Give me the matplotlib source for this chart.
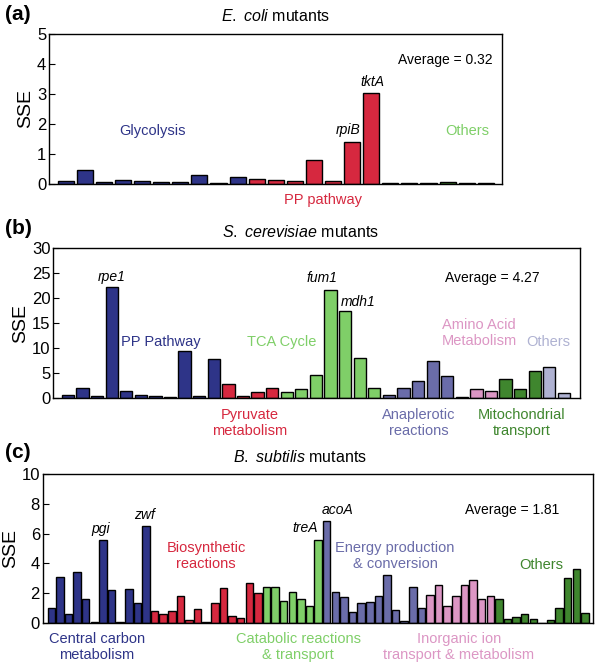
import numpy as np
import matplotlib
matplotlib.use('Agg')
import matplotlib.pyplot as plt

plt.rcParams['font.family'] = ['Liberation Sans', 'DejaVu Sans']
plt.rcParams['mathtext.fontset'] = 'custom'
plt.rcParams['mathtext.rm'] = 'Liberation Sans'
plt.rcParams['mathtext.it'] = 'Liberation Sans:italic'

NAVY = '#2e3488'
RED = '#d6283f'
LGREEN = '#7fcf68'
PURPLE = '#6a6ca9'
PINK = '#dc96c4'
DGREEN = '#3f862e'
LAV = '#afb2d2'

# ---- E. coli ----
ecoli_glyc = [0.10, 0.45, 0.05, 0.13, 0.09, 0.05, 0.07, 0.29, 0.02, 0.22]
ecoli_pp = [0.17, 0.11, 0.08, 0.78, 0.10, 1.40, 3.04]
ecoli_oth = [0.03, 0.02, 0.02, 0.05, 0.02, 0.02]

# ---- S. cerevisiae ----
sc_pp = [0.6, 2.0, 0.5, 22.3, 1.5, 0.7, 0.45, 0.3, 9.4, 0.4, 7.8]
sc_pyr = [2.8, 0.5, 1.2, 2.1]
sc_tca = [1.2, 1.8, 4.7, 21.7, 17.5, 8.0, 2.0]
sc_ana = [0.6, 2.1, 3.5, 7.5, 4.5]
sc_aa = [0.3, 1.9, 1.5]
sc_mito = [3.9, 1.9, 5.5]
sc_oth = [6.2, 1.1]

# ---- B. subtilis ----
bs_ccm = [1.05, 3.1, 0.6, 3.4, 1.65, 0.07, 5.55, 2.25, 0.07, 2.3, 1.35, 6.5]
bs_bio = [0.8, 0.65, 0.8, 1.85, 0.25, 0.95, 0.12, 1.35, 2.35, 0.5, 0.35, 2.7, 2.0]
bs_cat = [2.4, 2.45, 1.5, 2.1, 1.65, 1.15, 5.6]
bs_energy = [6.85, 2.1, 1.75, 0.75, 1.35, 1.4, 1.85, 3.25, 0.9, 0.15, 2.45, 1.0]
bs_ion = [1.9, 2.55, 1.15, 1.85, 2.55, 2.9, 1.6, 1.85]
bs_oth = [1.6, 0.3, 0.45, 0.6, 0.3, 0.0, 0.2, 1.05, 3.05, 3.6, 0.7]

W, H = 600, 666
fig = plt.figure(figsize=(6, 6.66), dpi=100)


def px(x, y):
    return x / W, 1 - y / H


def txt(x, y, s, **kw):
    kw.setdefault('ha', 'center')
    kw.setdefault('va', 'center')
    kw.setdefault('fontsize', 10)
    fig.text(*px(x, y), s, **kw)


def cat(x, y, s, c):
    # group label, a touch bigger than gene names
    txt(x, y, s, color=c, fontsize=10.5, linespacing=1.1)


def panel(box, groups, xlim, ylim, step, width):
    l, r, t, b = box
    ax = fig.add_axes([l / W, 1 - b / H, (r - l) / W, (b - t) / H])
    vals, cols = [], []
    for v, c in groups:
        vals += v
        cols += [c] * len(v)
    x = np.arange(len(vals))
    ax.bar(x, vals, width=width, color=cols, edgecolor='black', linewidth=1.0)
    ax.set_xlim(*xlim)
    ax.set_ylim(0, ylim)
    ax.set_yticks(np.arange(0, ylim + 0.01, step))
    ax.set_xticks([])
    ax.tick_params(axis='y', direction='in', length=4, labelsize=12, pad=2)
    for s in ax.spines.values():
        s.set_linewidth(1.0)
    ax.set_ylabel('SSE', fontsize=14, labelpad=2)
    return ax


# (a)
ax1 = panel((49, 502, 34, 183.7),
            [(ecoli_glyc, NAVY), (ecoli_pp, RED), (ecoli_oth, DGREEN)],
            (-0.88, 22.85), 5, 1, 0.84)
txt(18, 14, '(a)', fontsize=15, fontweight='bold')
txt(275, 16, r'$\mathit{E.\ coli}$ mutants', fontsize=11.5)
txt(445, 60, 'Average = 0.32')
cat(153, 131, 'Glycolysis', NAVY)
cat(467, 131, 'Others', LGREEN)
cat(323, 200, 'PP pathway', RED)
txt(348, 130, 'rpiB', style='italic')
txt(372, 82, 'tktA', style='italic')

# (b)
ax2 = panel((53.3, 580, 248.3, 398.3),
            [(sc_pp, NAVY), (sc_pyr, RED), (sc_tca, LGREEN), (sc_ana, PURPLE),
             (sc_aa, PINK), (sc_mito, DGREEN), (sc_oth, LAV)],
            (-1.0, 35.1), 30, 5, 0.84)
txt(18, 229, '(b)', fontsize=15, fontweight='bold')
txt(300, 232, r'$\mathit{S.\ cerevisiae}$ mutants', fontsize=11.5)
txt(492, 278, 'Average = 4.27')
txt(112, 277, 'rpe1', style='italic')
txt(322, 278, 'fum1', style='italic')
txt(358, 302, 'mdh1', style='italic')
cat(161, 342, 'PP Pathway', NAVY)
cat(282, 342, 'TCA Cycle', LGREEN)
cat(479, 333, 'Amino Acid\nMetabolism', PINK)
cat(548, 342, 'Others', LAV)
cat(250, 423, 'Pyruvate\nmetabolism', RED)
cat(419, 423, 'Anaplerotic\nreactions', PURPLE)
cat(522, 423, 'Mitochondrial\ntransport', DGREEN)

# (c)
ax3 = panel((42.7, 592.7, 473.7, 623.3),
            [(bs_ccm, NAVY), (bs_bio, RED), (bs_cat, LGREEN), (bs_energy, PURPLE),
             (bs_ion, PINK), (bs_oth, DGREEN)],
            (-1.0, 62.9), 10, 2, 0.87)
txt(18, 453, '(c)', fontsize=15, fontweight='bold')
txt(300, 457, r'$\mathit{B.\ subtilis}$ mutants', fontsize=11.5)
txt(512, 510, 'Average = 1.81')
txt(101, 529, 'pgi', style='italic')
txt(145, 515, 'zwf', style='italic')
txt(305, 528, 'treA', style='italic')
txt(338, 510, 'acoA', style='italic')
cat(206, 556, 'Biosynthetic\nreactions', RED)
cat(395, 556, 'Energy production\n& conversion', PURPLE)
cat(541, 565, 'Others', DGREEN)
cat(97, 647, 'Central carbon\nmetabolism', NAVY)
cat(298, 647, 'Catabolic reactions\n& transport', LGREEN)
cat(459, 647, 'Inorganic ion\ntransport & metabolism', PINK)

fig.savefig('out.png', dpi=100)
